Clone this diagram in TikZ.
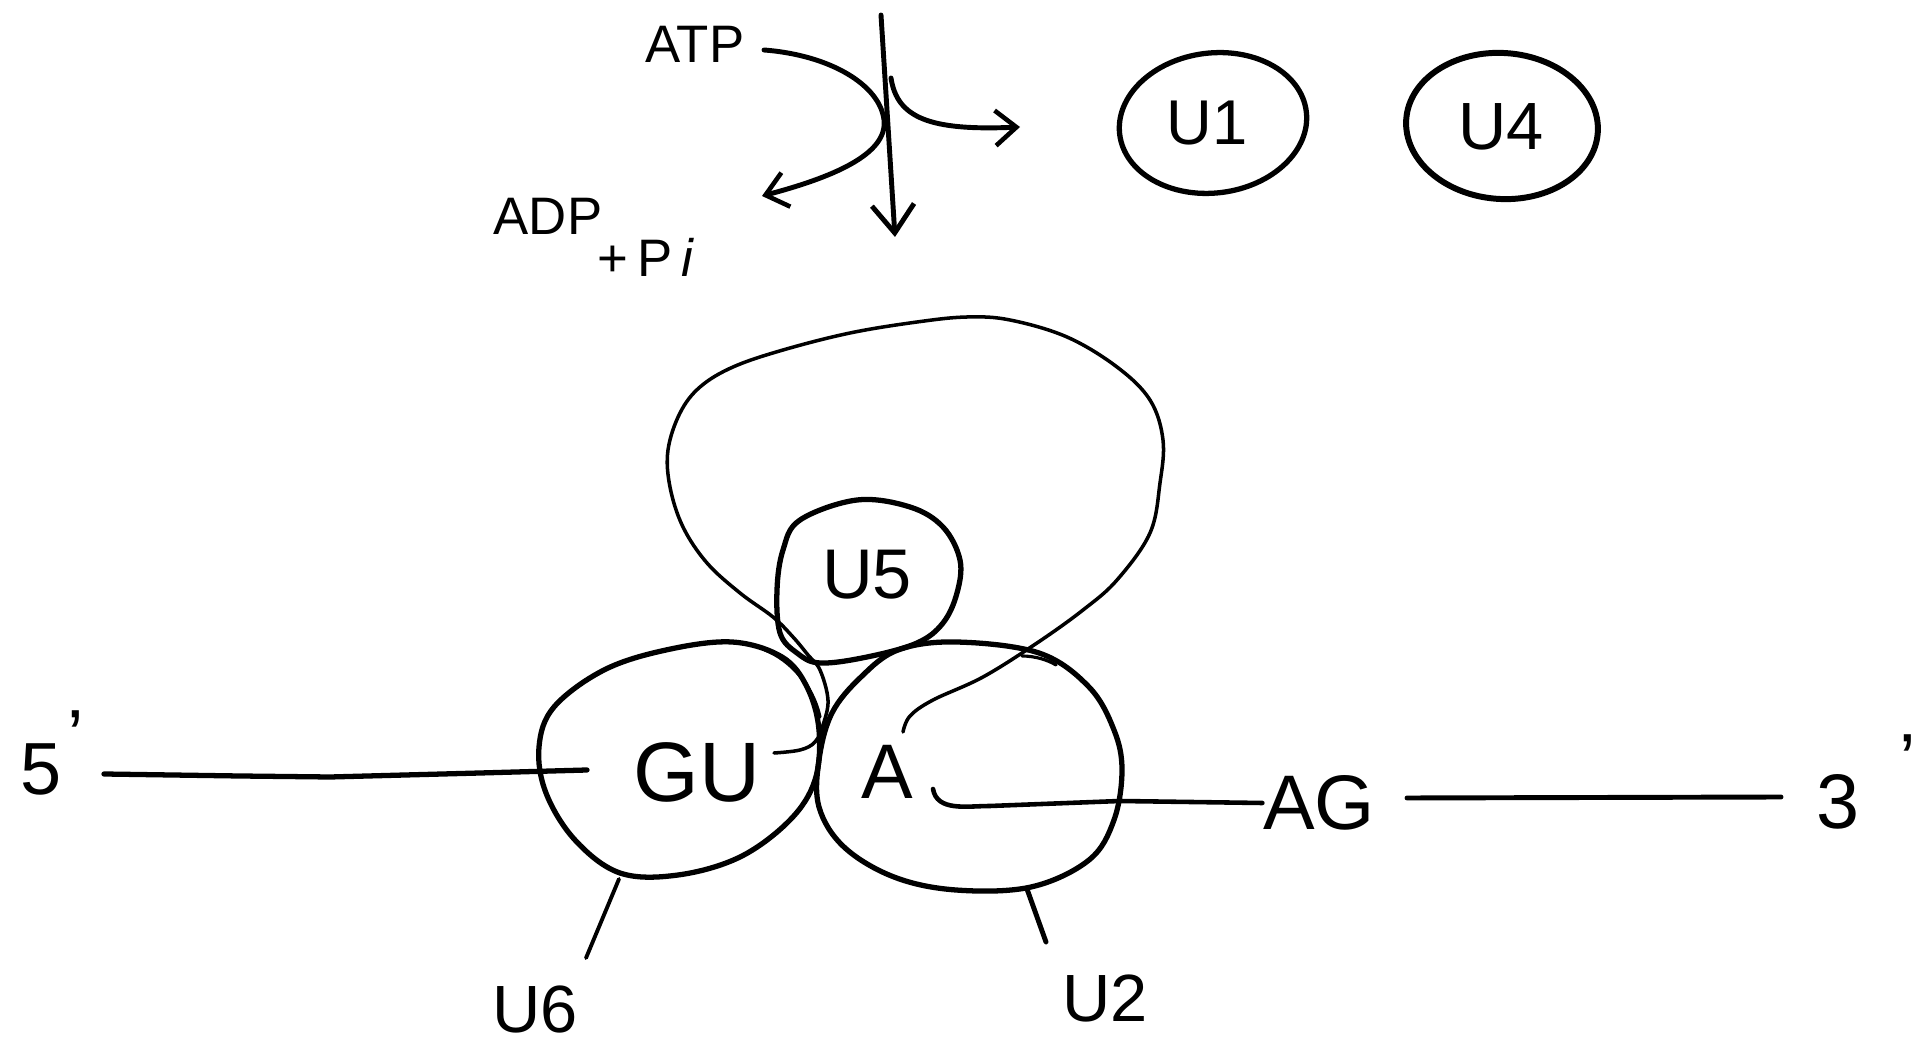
\documentclass[tikz,border=0pt]{standalone}
\usepackage{fontspec}
\setmainfont{Liberation Sans}
\usetikzlibrary{arrows.meta}
\begin{document}
\begin{tikzpicture}[x=0.01cm,y=-0.01cm,
  blob/.style={line width=1.5pt, line join=round},
  sketch/.style={line width=0.9pt, line cap=round},
  loopline/.style={line width=1pt, line join=round, line cap=round},
  strand/.style={line width=1.5pt, line cap=round},
  stem/.style={line width=1.1pt, line cap=round},
  rx/.style={line width=1.4pt, line cap=round},
  bigtip/.style={-{Straight Barb[length=8pt,width=12pt,line width=1.4pt]}},
  smalltip/.style={-{Straight Barb[length=6pt,width=10pt,line width=1.3pt]}},
  lbl/.style={inner sep=0pt, text=black}]
\useasboundingbox (0,0) rectangle (1923,1046);
\fill[white] (0,0) rectangle (1923,1046);

% ---------- labels ----------
\node[lbl, font=\fontsize{15}{15}\selectfont] (atp) at (695,44) {ATP};
\node[lbl, font=\fontsize{15}{15}\selectfont] (adp) at (548,216) {ADP};
\node[lbl, font=\fontsize{15}{15}\selectfont] (pi) at (646,257) {+\,P\,\textit{i}};
\node[lbl, font=\fontsize{18}{18}\selectfont] (u1) at (1207,123) {U1};
\node[lbl, font=\fontsize{19}{19}\selectfont] (u4) at (1501,127) {U4};
\node[lbl, font=\fontsize{20}{20}\selectfont] (u5) at (867,575) {U5};
\node[lbl, font=\fontsize{24}{24}\selectfont] (gu) at (697,772) {GU};
\node[lbl, font=\fontsize{22}{22}\selectfont] (a) at (887,772) {A};
\node[lbl, font=\fontsize{22}{22}\selectfont] (ag) at (1319,803) {AG};
\node[lbl, font=\fontsize{21}{21}\selectfont] (five) at (41,769) {5};
\node[lbl, font=\fontsize{21}{21}\selectfont] (fivep) at (76,736) {'};
\node[lbl, font=\fontsize{22}{22}\selectfont] (three) at (1838,802) {3};
\node[lbl, font=\fontsize{21}{21}\selectfont] (threep) at (1908,760) {'};
\node[lbl, font=\fontsize{19}{19}\selectfont] (u6) at (535,1010) {U6};
\node[lbl, font=\fontsize{19}{19}\selectfont] (u2) at (1105,998) {U2};

% ---------- snRNP outlines ----------
\draw[blob] (1213,123) [rotate around={7:(1213,123)}] ellipse [x radius=94, y radius=70];
\draw[blob, line width=1.7pt] (1502,126) [rotate around={-4:(1502,126)}] ellipse [x radius=96, y radius=73];
\draw[blob] plot[smooth cycle, tension=0.6] coordinates {(857,500) (800,520) (783,550) (777,590) (780,633) (797,653) (820,663) (867,657) (917,643) (943,623) (957,593) (960,560) (943,527) (910,507)};
\draw[blob] plot[smooth cycle, tension=0.6] coordinates {(732,642) (666,650) (604,670) (554,707) (539,747) (546,793) (575,840) (620,873) (678,875) (740,857) (790,820) (815,780) (819,730) (807,687) (782,657)};
\draw[blob] plot[smooth cycle, tension=0.6] coordinates {(956,642) (1039,653) (1089,687) (1114,730) (1122,770) (1114,820) (1089,860) (1031,887) (956,890) (894,877) (844,847) (819,807) (819,760) (832,713) (861,677) (898,650)};
% second pencil strokes
\draw[sketch] (765,650) .. controls (790,660) and (813,685) .. (820,717);
\draw[sketch] (1022,656) .. controls (1035,656) and (1048,660) .. (1056,665);

% ---------- intron lariat ----------
\draw[loopline] plot[smooth, tension=0.6] coordinates {(774,753) (800,750) (815,742) (823,725) (828,700) (820,670) (808,655) (793,637) (773,617) (740,593) (707,563) (683,527) (670,487) (668,450) (680,413) (700,387) (733,367) (783,350) (850,333) (917,322) (967,317) (1010,320) (1067,337) (1117,367) (1150,400) (1163,440) (1160,483) (1150,533) (1117,580) (1083,610) (1037,643) (983,677) (933,700) (910,716) (903,732)};

% ---------- pre-mRNA strands ----------
\coordinate (fiveend) at (104,774);
\coordinate (guin) at (587,770);
\draw[strand] (fiveend) -- (240,776) -- (330,777) -- (480,773) -- (guin);
\coordinate (atail) at (933,789);
\draw[strand, line width=1.3pt] (atail) to[out=-80,in=180] (990,806) -- (1120,801) -- (ag.west);
\coordinate (agr) at (1407,798);
\coordinate (threel) at (1781,797);
\draw[strand, line width=1.4pt] (agr) -- (threel);

% ---------- U6 / U2 stems ----------
\coordinate (gubot) at (619,879);
\coordinate (u6top) at (586,958);
\draw[stem] (gubot) -- (u6top);
\coordinate (abot) at (1027,889);
\coordinate (u2top) at (1046,942);
\draw[stem, line width=1.4pt] (abot) -- (u2top);

% ---------- ATP-driven step ----------
\coordinate (vtop) at (881,15);
\coordinate (vbot) at (895,237);
\draw[rx, bigtip] (vtop) -- (vbot);
\coordinate (atps) at (764,50);
\coordinate (adpt) at (762,196);
\draw[rx, smalltip] (atps) .. controls (830,55) and (880,85) .. (884,120) .. controls (888,155) and (830,178) .. (adpt);
\coordinate (rcs) at (891,78);
\coordinate (rct) at (1020,127);
\draw[rx, smalltip] (rcs) .. controls (897,118) and (930,131) .. (rct);
\end{tikzpicture}
\end{document}
